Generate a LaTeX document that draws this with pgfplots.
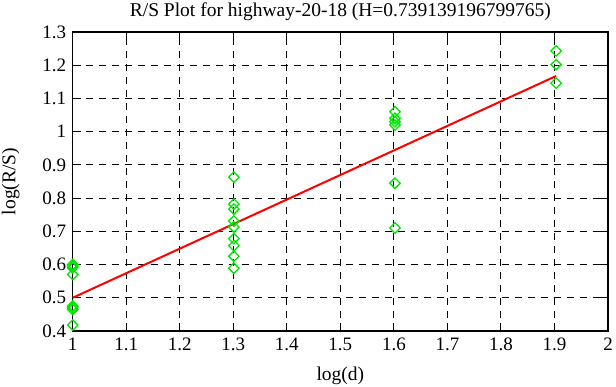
\documentclass[border=0pt]{standalone}
\usepackage{pgfplots}
\pgfplotsset{compat=1.18}
\usepackage{fontspec}
\setmainfont{Liberation Serif}
\definecolor{gpgreen}{RGB}{0,230,0}
\begin{document}
\begin{tikzpicture}
\useasboundingbox (-72.7pt,-56pt) rectangle (543.3pt,331pt);
\begin{axis}[
  at={(0pt,0pt)}, anchor=south west,
  scale only axis,
  width=535.3pt, height=299pt,
  xmin=1, xmax=2, ymin=0.4, ymax=1.3,
  xtick={1,1.1,...,2.01}, ytick={0.4,0.5,...,1.31},
  xticklabels={1,1.1,1.2,1.3,1.4,1.5,1.6,1.7,1.8,1.9,2},
  yticklabels={0.4,0.5,0.6,0.7,0.8,0.9,1,1.1,1.2,1.3},
  tick align=inside, tick pos=both,
  major tick length=8pt,
  grid=major,
  grid style={black, line width=0.9pt, dash pattern=on 7pt off 6pt},
  axis line style={black, line width=1.2pt},
  tick style={black, line width=1pt},
  ticklabel style={font=\fontsize{19}{19}\selectfont},
  xticklabel style={yshift=-3pt},
  yticklabel style={xshift=-3pt},
  /pgf/number format/assume math mode=true,
  title={R/S Plot for highway-20-18 (H=0.739139196799765)},
  xlabel={log(d)}, ylabel={log(R/S)},
  every axis title/.style={at={(axis description cs:0.5,1)}, anchor=center, yshift=20pt, font=\fontsize{19.5}{20}\selectfont},
  every axis x label/.style={at={(axis description cs:0.5,0)}, anchor=center, yshift=-45pt, font=\fontsize{19.5}{20}\selectfont},
  every axis y label/.style={at={(axis description cs:0,0.5)}, anchor=center, xshift=-62pt, rotate=90, font=\fontsize{19.5}{20}\selectfont},
  clip=false,
]
\addplot[only marks, mark=square, mark size=3.7pt, mark options={rotate=45, gpgreen, line width=1.3pt}] coordinates {
(1,0.600) (1,0.595) (1,0.590) (1,0.570)
(1,0.475) (1,0.470) (1,0.465) (1,0.418)
(1.30103,0.863) (1.30103,0.782) (1.30103,0.767) (1.30103,0.731) (1.30103,0.713)
(1.30103,0.678) (1.30103,0.657) (1.30103,0.625) (1.30103,0.589)
(1.60206,1.060) (1.60206,1.040) (1.60206,1.030) (1.60206,1.020)
(1.60206,0.845) (1.60206,0.710)
(1.90309,1.243) (1.90309,1.202) (1.90309,1.146)
};
\addplot[red, line width=2pt] coordinates {(1,0.500) (1.90309,1.1675)};
\end{axis}
\end{tikzpicture}
\end{document}
